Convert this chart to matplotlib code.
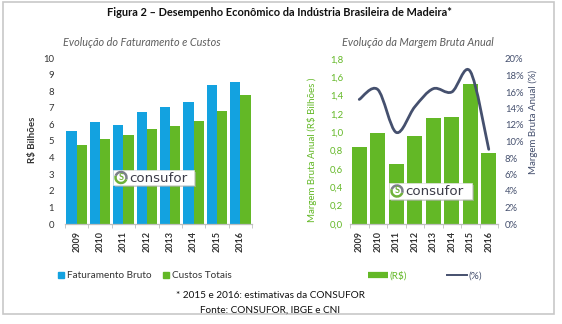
import matplotlib
matplotlib.use("Agg")
import matplotlib.pyplot as plt
import numpy as np
from matplotlib.patches import Patch, Rectangle, Circle, Arc
from matplotlib.lines import Line2D
from matplotlib.path import Path
from matplotlib.patches import PathPatch

plt.rcParams['font.family'] = ['Lato', 'DejaVu Sans']

anos = ['2009', '2010', '2011', '2012', '2013', '2014', '2015', '2016']
faturamento = [5.58, 6.14, 5.98, 6.73, 7.07, 7.35, 8.37, 8.57]
custos = [4.76, 5.14, 5.34, 5.74, 5.90, 6.18, 6.83, 7.79]
margem_rs = [0.84, 0.99, 0.66, 0.96, 1.16, 1.17, 1.53, 0.78]
margem_pct = [15.1, 16.3, 11.1, 14.2, 16.4, 16.0, 18.5, 9.05]

AZUL = '#13a2e0'
VERDE = '#63b826'
ESCURO = '#45506e'
CINZA_TXT = '#333333'

W, H = 562, 324
fig = plt.figure(figsize=(W / 100, H / 100), dpi=100)
fig.patch.set_facecolor('white')


def fx(px):
    return px / W


def fy(py):
    return 1 - py / H


# moldura
fig.add_artist(Rectangle((fx(2.5), fy(314)), fx(554) - fx(2.5), fy(2) - fy(314),
                         transform=fig.transFigure, fill=False, ec='#c8c8c8', lw=1.2))

fig.text(fx(279), fy(13), 'Figura 2 – Desempenho Econômico da Indústria Brasileira de Madeira*',
         ha='center', va='center', fontsize=7.9, fontweight='bold', color='#111111')
fig.text(fx(142), fy(42), 'Evolução do Faturamento e Custos', ha='center', va='center',
         fontsize=7.8, style='italic', color='#5e5e5e')
fig.text(fx(418), fy(42), 'Evolução da Margem Bruta Anual', ha='center', va='center',
         fontsize=7.8, style='italic', color='#5e5e5e')

x = np.arange(len(anos))


def estilo_eixo_x(ax):
    for s in ['left', 'right', 'top']:
        ax.spines[s].set_visible(False)
    ax.spines['bottom'].set_color('#bfbfbf')
    ax.spines['bottom'].set_linewidth(0.9)
    ax.set_xlim(-0.5, len(anos) - 0.5)
    ax.set_xticks(x)
    ax.set_xticklabels(anos, rotation=90, fontsize=6.5, fontweight='bold', color=CINZA_TXT)
    ax.set_xticks(np.arange(len(anos) + 1) - 0.5, minor=True)
    ax.tick_params(axis='x', which='major', length=0, pad=5)
    ax.tick_params(axis='x', which='minor', length=3, color='#bfbfbf')


# --- faturamento e custos ---
ax1 = fig.add_axes([fx(65), fy(224), fx(252) - fx(65), fy(58) - fy(224)])
ax1.bar(x - 0.22, faturamento, width=0.44, color=AZUL)
ax1.bar(x + 0.22, custos, width=0.44, color=VERDE)
ax1.set_ylim(0, 10)
ax1.set_yticks(range(0, 11))
ax1.tick_params(axis='y', length=0, labelsize=6.8, labelcolor=CINZA_TXT, pad=8)
estilo_eixo_x(ax1)
fig.text(fx(32), fy(140), 'R$ Bilhões', rotation=90, ha='center', va='center',
         fontsize=7, fontweight='bold', color=CINZA_TXT)

# --- margem bruta ---
ax2 = fig.add_axes([fx(350), fy(224), fx(498) - fx(350), fy(59) - fy(224)])
ax2.bar(x, margem_rs, width=0.79, color=VERDE)
ax2.set_ylim(0, 1.8)
ax2.set_yticks(np.arange(0, 1.81, 0.2))
ax2.set_yticklabels([f'{v:.1f}'.replace('.', ',') for v in np.arange(0, 1.81, 0.2)])
ax2.tick_params(axis='y', length=0, labelsize=6.8, labelcolor=VERDE, pad=5)
estilo_eixo_x(ax2)

ax3 = ax2.twinx()
for s in ['left', 'right', 'top', 'bottom']:
    ax3.spines[s].set_visible(False)
ax3.set_ylim(0, 20)
ax3.set_yticks(range(0, 21, 2))
ax3.set_yticklabels([f'{v}%' for v in range(0, 21, 2)])
ax3.tick_params(axis='y', length=0, labelsize=6.8, labelcolor=ESCURO, pad=5)

# linha suavizada (bezier pelos pontos)
pts = np.column_stack([x, margem_pct]).astype(float)
verts = [pts[0]]
codes = [Path.MOVETO]
for i in range(len(pts) - 1):
    p0 = pts[max(i - 1, 0)]
    p1 = pts[i]
    p2 = pts[i + 1]
    p3 = pts[min(i + 2, len(pts) - 1)]
    c1 = p1 + (p2 - p0) / 6
    c2 = p2 - (p3 - p1) / 6
    verts += [c1, c2, p2]
    codes += [Path.CURVE4] * 3
ax3.add_patch(PathPatch(Path(verts, codes), fill=False, ec=ESCURO, lw=2, capstyle='round'))

fig.text(fx(312), fy(150), 'Margem Bruta Anual (R$ Bilhões )', rotation=90, ha='center',
         va='center', fontsize=7, color=VERDE)
fig.text(fx(533), fy(122), 'Margem Bruta Anual (%)', rotation=90, ha='center',
         va='center', fontsize=7, color=ESCURO)


# logotipo
def logo(x0, y0, w, h):
    fig.add_artist(Rectangle((fx(x0 + 1.5), fy(y0 + h + 1.5)), fx(w), h / H,
                             transform=fig.transFigure, fc='#b0b0b0', ec='none', alpha=0.6))
    fig.add_artist(Rectangle((fx(x0), fy(y0 + h)), fx(w), h / H,
                             transform=fig.transFigure, fc='white', ec='#e0e0e0', lw=0.5))
    ix, iy = x0 + 8, y0 + h / 2
    fig.add_artist(Arc((fx(ix), fy(iy)), fx(11), 11 / H, theta1=150, theta2=330,
                       transform=fig.transFigure, ec='#6fb23a', lw=1.8))
    fig.add_artist(Arc((fx(ix), fy(iy)), fx(11), 11 / H, theta1=-30, theta2=150,
                       transform=fig.transFigure, ec='#7b8088', lw=1.8))
    fig.text(fx(ix), fy(iy), 'S', ha='center', va='center', fontsize=6.5,
             fontweight='bold', color='#6fb23a')
    fig.text(fx(ix + 8), fy(iy + 0.5), 'consufor', ha='left', va='center', fontsize=9.6,
             family='DejaVu Sans', color='#3c3c48')


logo(113, 170, 81, 15)
logo(389, 183, 83, 16)

# legendas
leg1 = fig.legend(handles=[Patch(color=AZUL, label='Faturamento Bruto'),
                           Patch(color=VERDE, label='Custos Totais')],
                  loc='center', bbox_to_anchor=(fx(145), fy(276)), ncol=2, frameon=False,
                  fontsize=7.2, handlelength=0.6, handleheight=0.6, handletextpad=0.3,
                  columnspacing=1.2, labelcolor=CINZA_TXT)
leg2 = fig.legend(handles=[Line2D([], [], color=VERDE, lw=4.5, solid_capstyle='butt', label='(R$)'),
                           Line2D([], [], color=ESCURO, lw=1.4, label='(%)')],
                  loc='center', bbox_to_anchor=(fx(425), fy(276)), ncol=2, frameon=False,
                  fontsize=7.2, handlelength=2.0, handletextpad=0.15, columnspacing=4.0)
leg2.get_texts()[0].set_color(VERDE)
leg2.get_texts()[1].set_color(ESCURO)

fig.text(fx(271), fy(296), '* 2015 e 2016: estimativas da CONSUFOR', ha='center', va='center',
         fontsize=7.2, color='#111111')
fig.text(fx(270), fy(310), 'Fonte: CONSUFOR, IBGE e CNI', ha='center', va='center',
         fontsize=7.2, color='#111111')

fig.savefig('out.png', dpi=100, facecolor='white')
